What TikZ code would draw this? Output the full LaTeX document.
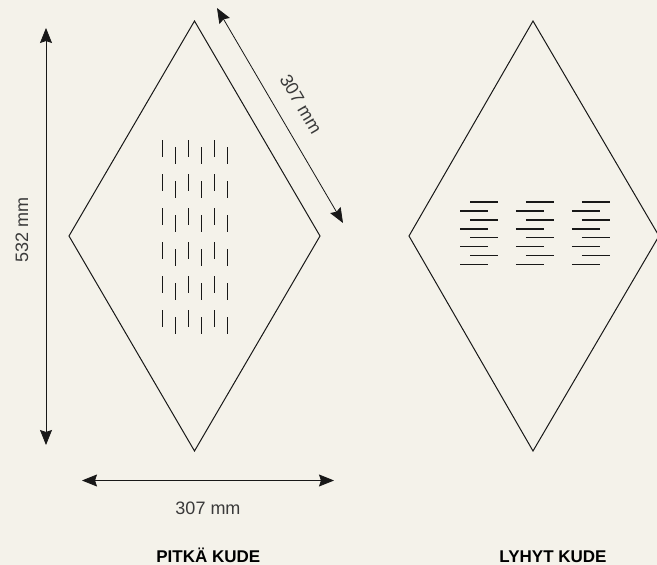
\documentclass[tikz,border=0pt]{standalone}
\usepackage{fontspec}
\setmainfont{Liberation Sans}
\usetikzlibrary{arrows.meta}
\definecolor{pohja}{RGB}{244,242,234}
\definecolor{teksti}{RGB}{58,58,58}
\definecolor{viiva}{RGB}{24,24,24}
\newcommand{\yksikko}{mm}
\newcommand{\mittaviiva}[2]{\draw[line width=0.8pt, viiva, {Stealth[length=15pt,width=12pt,inset=2pt]}-{Stealth[length=15pt,width=12pt,inset=2pt]}] (#1) -- (#2)}
\tikzset{
  mitta/.style={text=teksti, font=\fontsize{18}{20}\selectfont, inner sep=0pt},
  otsikko/.style={text=black, font=\fontsize{17}{20}\selectfont\bfseries, anchor=base, inner sep=0pt},
  ruutu/.style={draw=viiva, line width=1pt, line join=miter}
}

\begin{document}
\begin{tikzpicture}[x=1pt,y=-1pt]
  \fill[pohja] (0,0) rectangle (657,565);
  \useasboundingbox (0,0) rectangle (657,565);

  % pitka kude
  \coordinate (a1) at (194.5,21);
  \coordinate (a2) at (320,236);
  \coordinate (a3) at (194.5,451);
  \coordinate (a4) at (69,236);
  \draw[ruutu] (a1) -- (a2) -- (a3) -- (a4) -- cycle;

  \foreach \r in {0,...,5} {
    \foreach \k in {0,2,4}
      \draw[viiva, line width=1.4pt] ({162.7+12.9*\k},{140+34*\r}) -- ++(0,16.7);
    \foreach \k in {1,3,5}
      \draw[viiva, line width=1.4pt] ({162.7+12.9*\k},{147.3+34*\r}) -- ++(0,17);
  }

  % lyhyt kude
  \coordinate (b1) at (533,21);
  \coordinate (b2) at (659,236);
  \coordinate (b3) at (533,451);
  \coordinate (b4) at (409,236);
  \draw[ruutu] (b1) -- (b2) -- (b3) -- (b4) -- cycle;

  \foreach \g in {0,1,2} {
    \foreach \r in {0,...,3} {
      \draw[viiva, line width=1.3pt] ({470+55.9*\g},{202+17.9*\r}) -- ++(28.3,0);
      \draw[viiva, line width=1.3pt] ({460+55.9*\g},{211+17.9*\r}) -- ++(27.7,0);
    }
  }

  % mitat
  \coordinate (v1) at (46,28);
  \coordinate (v2) at (46,445);
  \coordinate (h1) at (82,480.5);
  \coordinate (h2) at (334,480.5);
  \coordinate (d1) at (217,8);
  \coordinate (d2) at (343,223);

  \mittaviiva{v1}{v2};
  \mittaviiva{h1}{h2};
  \mittaviiva{d1}{d2};

  \node[mitta, rotate=90] (korkeus) at (22,230) {532 \yksikko};
  \node[mitta] (leveys) at (208,508.5) {307 \yksikko};
  \node[mitta, rotate=-59.6] (sivu) at (301,104) {307 \yksikko};

  \node[otsikko] (pitka) at (208.3,562) {PITKÄ KUDE};
  \node[otsikko] (lyhyt) at (553,562) {LYHYT KUDE};
\end{tikzpicture}
\end{document}
